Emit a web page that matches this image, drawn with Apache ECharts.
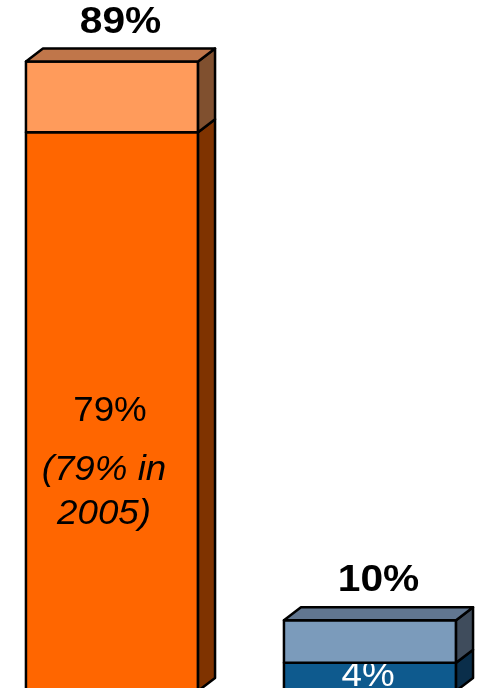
<!DOCTYPE html>
<html>
<head>
<meta charset="utf-8">
<title>Share chart</title>
<script src="https://cdn.jsdelivr.net/npm/echarts@6.0.0/dist/echarts.min.js"></script>
<style>
  html, body { margin: 0; padding: 0; background: #fff; }
  #chart { width: 479px; height: 688px; }
</style>
</head>
<body>
<div id="chart"></div>
<script>
// data
const categories = ["Orange", "Blue"];
const baseValues = [79, 4];
const topValues = [10, 6];
const baseLabels = ["79%", "4%"];
const baseNotes = ["(79% in\n2005)", ""];

// colours: [front, side, top] per bar
const baseColors = [
  ["#FF6600", "#7F3300", "#C0764A"],
  ["#0E5A8E", "#0A2E4A", "#3F5A78"]
];
const topColors = [
  ["#FF9B5B", "#80502F", "#C0764A"],
  ["#7B9BBB", "#3F4C5C", "#617690"]
];
const labelColors = ["#000", "#fff"];

const DX = 17; // depth of the fake 3d
const DY = 13;
const BAR_FRAC = 0.667;
const FONT = "'Liberation Sans', Arial, sans-serif";

const chart = echarts.init(document.getElementById("chart"));

function makeRender(colors, isTop) {
  return function (params, api) {
    const i = api.value(0);
    const lo = api.coord([i, api.value(1)]);
    const hi = api.coord([i, api.value(2)]);
    const w = api.size([1, 0])[0] * BAR_FRAC;
    const x0 = lo[0] - w / 2;
    const x1 = lo[0] + w / 2;
    const yb = lo[1];
    const yt = hi[1];
    const c = colors[i];
    const line = { stroke: "#000", lineWidth: 2.5, lineJoin: "round" };
    const children = [
      {
        type: "rect",
        shape: { x: x0, y: yt, width: w, height: yb - yt },
        style: Object.assign({ fill: c[0] }, line)
      },
      {
        type: "polygon",
        shape: { points: [[x1, yt], [x1 + DX, yt - DY], [x1 + DX, yb - DY], [x1, yb]] },
        style: Object.assign({ fill: c[1] }, line)
      }
    ];
    if (isTop) {
      children.push({
        type: "polygon",
        shape: { points: [[x0, yt], [x0 + DX, yt - DY], [x1 + DX, yt - DY], [x1, yt]] },
        style: Object.assign({ fill: c[2] }, line)
      });
      // total on top of the bar
      children.push({
        type: "text",
        x: (x0 + x1 + DX) / 2,
        y: yt - 39,
        scaleX: 1.1,
        style: {
          text: api.value(2) + "%",
          fill: "#000",
          font: "bold 37px " + FONT,
          align: "center",
          verticalAlign: "middle"
        }
      });
    } else {
      const cy = (yt + yb) / 2;
      children.push({
        type: "text",
        x: lo[0] - 2,
        y: cy,
        scaleX: 1.05,
        style: {
          text: baseLabels[i],
          fill: labelColors[i],
          font: "35px " + FONT,
          align: "center",
          verticalAlign: "middle"
        }
      });
      if (baseNotes[i]) {
        children.push({
          type: "text",
          x: lo[0] - 8,
          y: cy + 37,
          scaleX: 1.05,
          style: {
            text: baseNotes[i],
            fill: labelColors[i],
            font: "italic 35px " + FONT,
            lineHeight: 44,
            align: "center",
            verticalAlign: "top"
          }
        });
      }
    }
    return { type: "group", children: children };
  };
}

chart.setOption({
  animation: false,
  grid: { left: 112, right: 109, top: 0, bottom: 0 },
  xAxis: { type: "value", min: 0, max: 1, show: false },
  // zero sits a few pixels below the bottom edge, like the cut-off original
  yAxis: { type: "value", min: 0.42, max: 97.7, show: false },
  series: [
    {
      name: "base",
      type: "custom",
      clip: false,
      renderItem: makeRender(baseColors, false),
      data: categories.map((c, i) => [i, 0, baseValues[i]])
    },
    {
      name: "top",
      type: "custom",
      clip: false,
      renderItem: makeRender(topColors, true),
      data: categories.map((c, i) => [i, baseValues[i], baseValues[i] + topValues[i]])
    }
  ]
});
</script>
</body>
</html>
